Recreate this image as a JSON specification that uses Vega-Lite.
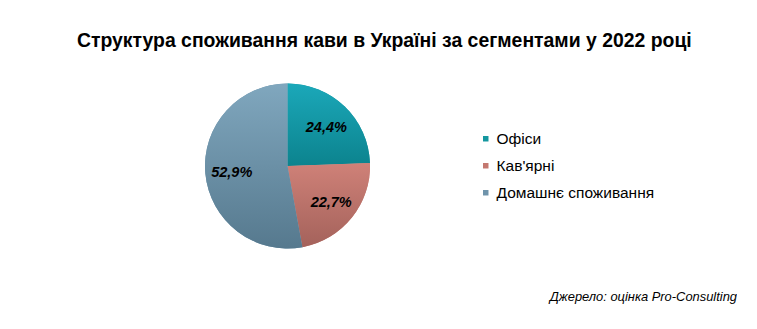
{
  "$schema": "https://vega.github.io/schema/vega-lite/v6.json",
  "config": {
    "locale": {"number": {"decimal": ",", "thousands": " ", "grouping": [3], "currency": ["", " ₴"]}},
    "view": {"stroke": null},
    "font": "Liberation Sans",
    "background": "#ffffff"
  },
  "padding": {"left": 0, "top": 30, "right": 0, "bottom": 0},
  "title": {
    "text": "Структура споживання кави в Україні за сегментами у 2022 році",
    "fontSize": 19.4, "fontWeight": "bold", "font": "Liberation Sans", "color": "#000000",
    "anchor": "start", "dx": 77, "offset": 10
  },
  "vconcat": [
    {
      "width": 575,
      "height": 210,
      "title": {
        "text": "Джерело: оцінка Pro-Consulting",
        "orient": "bottom", "anchor": "end", "fontSize": 12.9, "fontStyle": "italic",
        "fontWeight": "normal", "color": "#000000", "dx": 162, "offset": 20
      },
      "data": {
        "values": [
          {"segment": "Офіси", "share": 0.244},
          {"segment": "Кав'ярні", "share": 0.227},
          {"segment": "Домашнє споживання", "share": 0.529}
        ]
      },
      "transform": [{"window": [{"op": "row_number", "as": "idx"}]}],
      "encoding": {
        "theta": {"field": "share", "type": "quantitative", "stack": true},
        "order": {"field": "idx", "type": "quantitative"}
      },
      "layer": [
        {
          "mark": {"type": "arc", "outerRadius": 82.5},
          "encoding": {
            "color": {
              "field": "segment", "type": "nominal",
              "scale": {"domain": ["Офіси", "Кав'ярні", "Домашнє споживання"], "range": ["#14979f", "#c47870", "#6f94ab"]},
              "legend": {
                "title": null, "orient": "none", "legendX": 478, "legendY": 70,
                "symbolType": "square", "symbolSize": 30, "symbolStrokeWidth": 0,
                "labelFontSize": 15.5, "labelFont": "Liberation Sans", "labelColor": "#000000",
                "labelOffset": 3, "rowPadding": 10, "labelLimit": 300
              }
            }
          }
        },
        {
          "mark": {"type": "arc", "outerRadius": 82.5},
          "encoding": {
            "fill": {
              "condition": [
                {"test": "datum.segment === 'Офіси'", "value": {"gradient": "linear", "x1": 0, "y1": 0, "x2": 0, "y2": 1, "stops": [{"offset": 0, "color": "#1ba8b9"}, {"offset": 1, "color": "#0c838e"}]}},
                {"test": "datum.segment === \"Кав'ярні\"", "value": {"gradient": "linear", "x1": 0, "y1": 0, "x2": 0, "y2": 1, "stops": [{"offset": 0, "color": "#cf8178"}, {"offset": 1, "color": "#a4625b"}]}}
              ],
              "value": {"gradient": "linear", "x1": 0, "y1": 0, "x2": 0, "y2": 1, "stops": [{"offset": 0, "color": "#80a7be"}, {"offset": 1, "color": "#56798e"}]}
            }
          }
        },
        {
          "mark": {"type": "text", "radius": 56, "dy": 2, "fontSize": 14.5, "fontWeight": "bold", "fontStyle": "italic", "font": "Liberation Sans", "color": "#000000"},
          "encoding": {
            "text": {"field": "share", "type": "quantitative", "format": ".1%"}
          }
        }
      ]
    }
  ]
}
